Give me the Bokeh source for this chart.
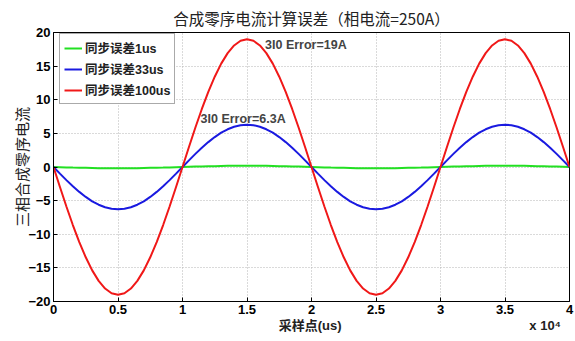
from bokeh.plotting import figure
from bokeh.models import Label, FixedTicker, Range1d, Legend, LegendItem
from bokeh.embed import file_html
from bokeh.resources import INLINE

title_text = "合成零序电流计算误差（相电流=250A）"
x_label = "采样点(us)"
x_multiplier = "x 10⁴"
y_label = "三相合成零序电流"
series_names = ["同步误差1us", "同步误差33us", "同步误差100us"]
x_ticks = [0, 0.5, 1, 1.5, 2, 2.5, 3, 3.5, 4]
y_ticks = [-20, -15, -10, -5, 0, 5, 10, 15, 20]
annot_19 = "3I0 Error=19A"
annot_63 = "3I0 Error=6.3A"

x = [round(i * 0.05, 2) for i in range(81)]

red_half = [0, 2.97, 5.87, 8.63, 11.17, 13.43, 15.37, 16.93, 18.07, 18.77, 19.0,
            18.77, 18.07, 16.93, 15.37, 13.43, 11.17, 8.63, 5.87, 2.97]
blue_half = [0, 0.99, 1.95, 2.86, 3.70, 4.45, 5.10, 5.61, 5.99, 6.22, 6.3,
             6.22, 5.99, 5.61, 5.10, 4.45, 3.70, 2.86, 1.95, 0.99]
green_half = [0, 0.03, 0.06, 0.09, 0.11, 0.13, 0.15, 0.17, 0.18, 0.19, 0.19,
              0.19, 0.18, 0.17, 0.15, 0.13, 0.11, 0.09, 0.06, 0.03]

err_100us = ([-v for v in red_half] + red_half + [-v for v in red_half] + red_half + [0])
err_33us = ([-v for v in blue_half] + blue_half + [-v for v in blue_half] + blue_half + [0])
err_1us = ([-v for v in green_half] + green_half + [-v for v in green_half] + green_half + [0])

mixed_font = "Liberation Sans, Noto Sans CJK SC"
cjk_font = "Noto Sans CJK SC"
tick_font = "Liberation Sans"
NBSP = "\u00a0"

p = figure(width=575, height=341, output_backend="svg", toolbar_location=None,
           x_range=Range1d(0, 4), y_range=Range1d(-20, 20),
           min_border_left=53, min_border_right=6, min_border_top=32, min_border_bottom=40)
p.background_fill_color = "white"
p.border_fill_color = "white"
p.outline_line_color = "black"
p.outline_line_width = 1

p.title.text = title_text
p.title.text_font = cjk_font
p.title.text_font_size = "15.5px"
p.title.text_font_style = "normal"
p.title.text_color = "#222222"
p.title.align = "center"
p.title.standoff = 8

for ax in (p.xaxis[0], p.yaxis[0]):
    ax.major_label_text_font = tick_font
    ax.major_label_text_font_style = "bold"
    ax.major_label_text_font_size = "13px"
    ax.major_label_text_color = "black"
    ax.major_tick_in = 4
    ax.major_tick_out = 0
    ax.minor_tick_in = 0
    ax.minor_tick_out = 0
    ax.axis_line_color = "black"
    ax.major_tick_line_color = "black"

p.xaxis.ticker = FixedTicker(ticks=x_ticks)
p.yaxis.ticker = FixedTicker(ticks=y_ticks)
p.xaxis.major_label_overrides = {0: "0", 0.5: "0.5", 1: "1", 1.5: "1.5", 2: "2",
                                 2.5: "2.5", 3: "3", 3.5: "3.5", 4: "4"}
p.xaxis.major_label_standoff = 3
p.yaxis.major_label_standoff = 3

# x label centred under the frame, multiplier at the right end of the same line
p.xaxis.axis_label = NBSP * 60 + x_label + NBSP * 52 + x_multiplier
p.xaxis.axis_label_text_font = mixed_font
p.xaxis.axis_label_text_font_style = "bold"
p.xaxis.axis_label_text_font_size = "13px"
p.xaxis.axis_label_text_color = "#222222"
p.xaxis.axis_label_standoff = 1

p.yaxis.axis_label = y_label
p.yaxis.axis_label_text_font = cjk_font
p.yaxis.axis_label_text_font_style = "normal"
p.yaxis.axis_label_text_font_size = "15px"
p.yaxis.axis_label_text_color = "#222222"
p.yaxis.axis_label_standoff = -7

p.grid.grid_line_color = "#b4b4b4"
p.grid.grid_line_dash = "1 2"
p.grid.grid_line_width = 1
p.xgrid.ticker = FixedTicker(ticks=x_ticks)
p.ygrid.ticker = FixedTicker(ticks=y_ticks)

r1 = p.line(x, err_1us, line_color="#22e022", line_width=2)
r2 = p.line(x, err_33us, line_color="#1a1ae0", line_width=2)
r3 = p.line(x, err_100us, line_color="#f01818", line_width=2)

legend = Legend(items=[LegendItem(label=series_names[0], renderers=[r1]),
                       LegendItem(label=series_names[1], renderers=[r2]),
                       LegendItem(label=series_names[2], renderers=[r3])],
                location=(6, 197))
legend.label_text_font = mixed_font
legend.label_text_font_style = "bold"
legend.label_text_font_size = "12.5px"
legend.label_text_color = "#222222"
legend.padding = 4
legend.spacing = 2
legend.glyph_width = 18
legend.glyph_height = 18
legend.label_height = 18
legend.label_standoff = 3
legend.border_line_color = "#555555"
legend.border_line_width = 1
legend.background_fill_color = "white"
legend.margin = 0
p.add_layout(legend, "center")

p.add_layout(Label(x=1.64, y=18.1, text=annot_19, text_font=tick_font, text_font_style="bold",
                   text_font_size="12.5px", text_baseline="middle", text_align="left"))
p.add_layout(Label(x=1.14, y=7.2, text=annot_63, text_font=tick_font, text_font_style="bold",
                   text_font_size="12.5px", text_baseline="middle", text_align="left"))

open("out.html", "w").write(file_html(p, INLINE))
